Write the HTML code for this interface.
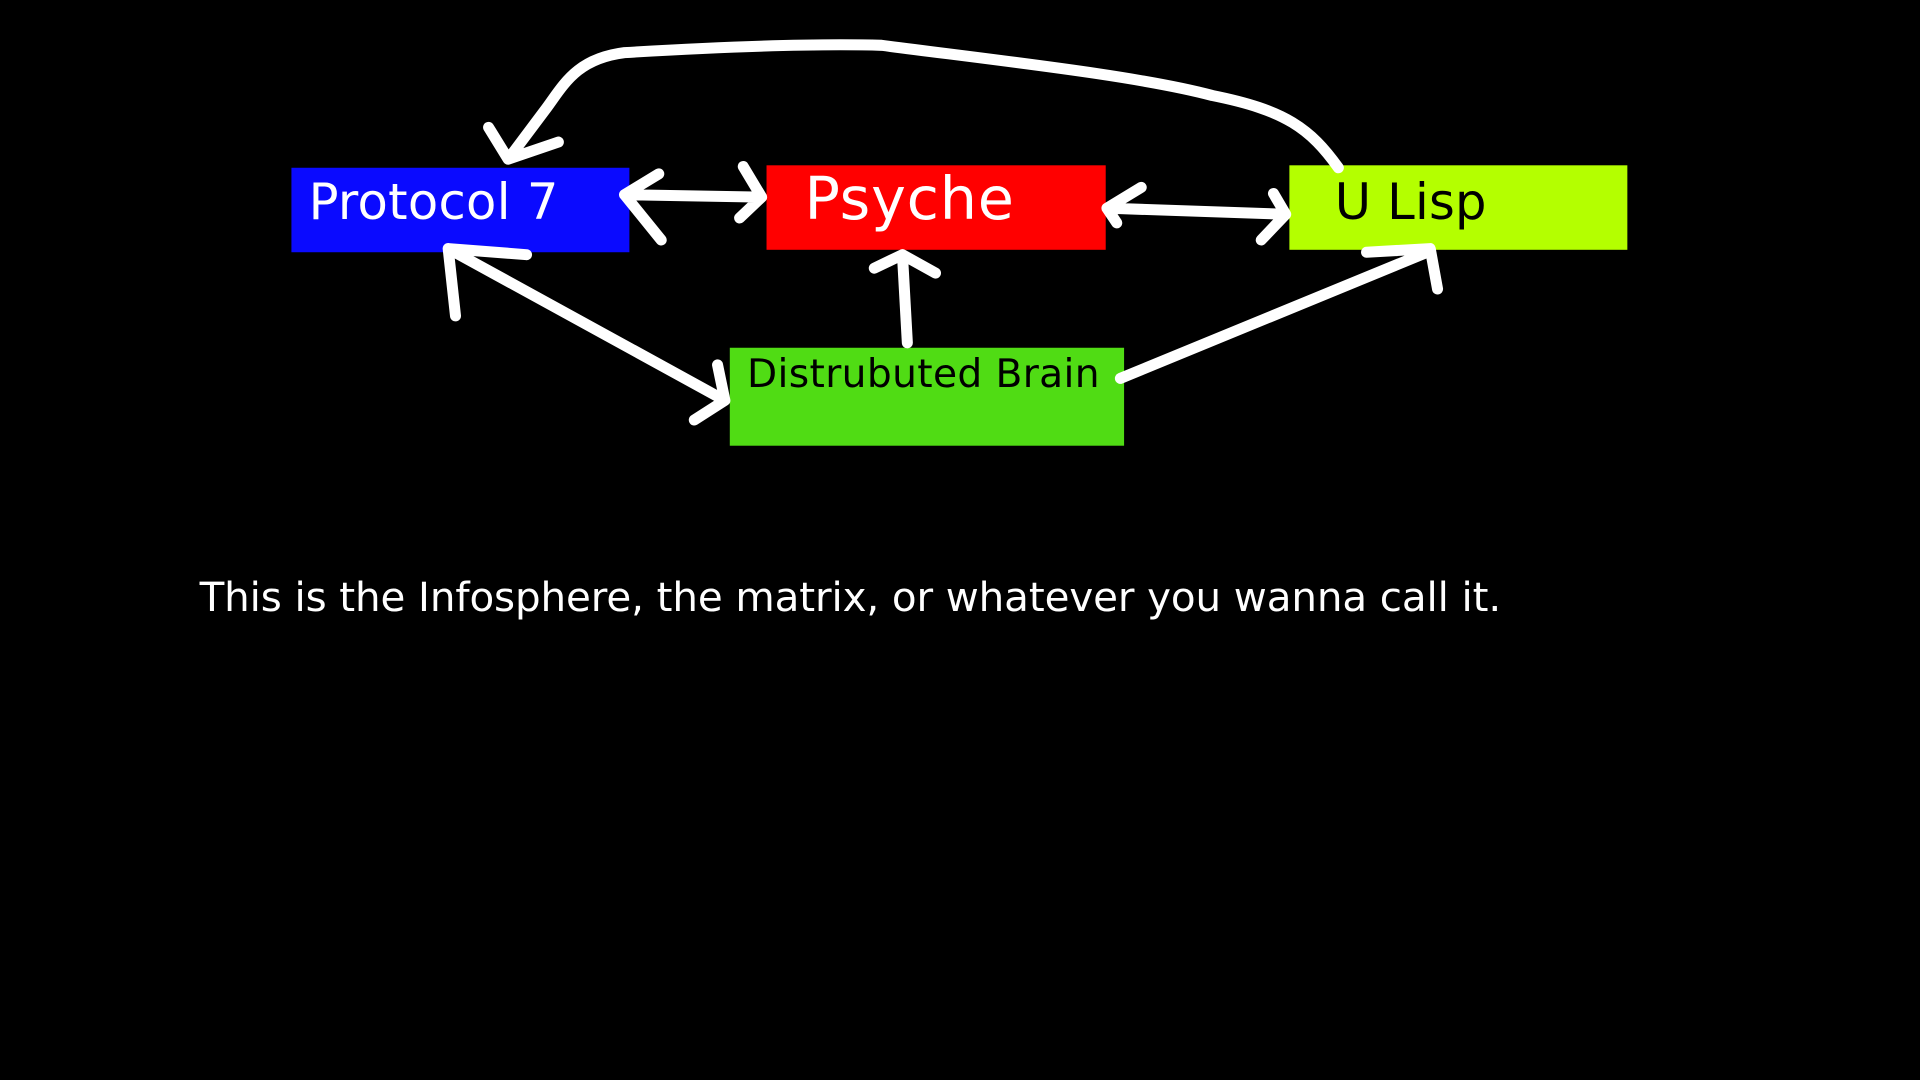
<!DOCTYPE html>
<html><head><meta charset="utf-8"><style>
html,body{margin:0;padding:0;background:#000;width:1920px;height:1080px;overflow:hidden}
svg{display:block}
text{font-family:"DejaVu Sans","Liberation Sans",sans-serif}
</style></head><body>
<svg width="1920" height="1080" viewBox="0 0 1568 882" preserveAspectRatio="none">
<rect x="0" y="0" width="1568" height="882" fill="#000"/>
<g>
<rect x="238" y="137" width="276" height="69" fill="#0a0aff"/>
<text x="252" y="179" font-size="40.5" fill="#fff" textLength="204">Protocol 7</text></g>
<g>
<rect x="626" y="135" width="277" height="69" fill="#ff0000"/>
<text x="657" y="179" font-size="48" fill="#fff" textLength="171">Psyche</text></g>
<g>
<rect x="1053" y="135" width="276" height="69" fill="#b4ff00"/>
<text x="1090" y="179" font-size="40.5" fill="#000" textLength="124">U Lisp</text></g>
<g>
<rect x="596" y="284" width="322" height="80" fill="#50dc14"/>
<text x="610" y="316" font-size="32" fill="#000" textLength="288">Distrubuted Brain</text></g>
<g fill="none" stroke="#fff" stroke-width="9" stroke-linecap="round" stroke-linejoin="round">
<path d="M510 159 L622 161 M538 142 L510 159 L540 196 M607 136 L622 161 L604 178"/>
<path d="M904 170 L1050 175 M932 153 L904 170 L912 182 M1040 158 L1050 175 L1030 196"/>
<path d="M741 280 L737 208 M714 219 L737 208 L764 223"/>
<path d="M592 327 L366 203 M372 258 L366 203 L430 208 M567 343 L592 327 L586 298"/>
<path d="M915 309 L1168 205 M1116 206 L1168 203 L1174 236"/>
<path d="M1093 137 C1070 105 1050 90 990 78 C930 62 820 50 720 37 C650 35 560 40 510 43 C470 48 460 70 445 90 L415 130 M399 104 L415 130 L456 116"/>
</g>
<text x="163" y="499" font-size="33" fill="#fff" textLength="1063">This is the Infosphere, the matrix, or whatever you wanna call it.</text>
</svg>
</body></html>
